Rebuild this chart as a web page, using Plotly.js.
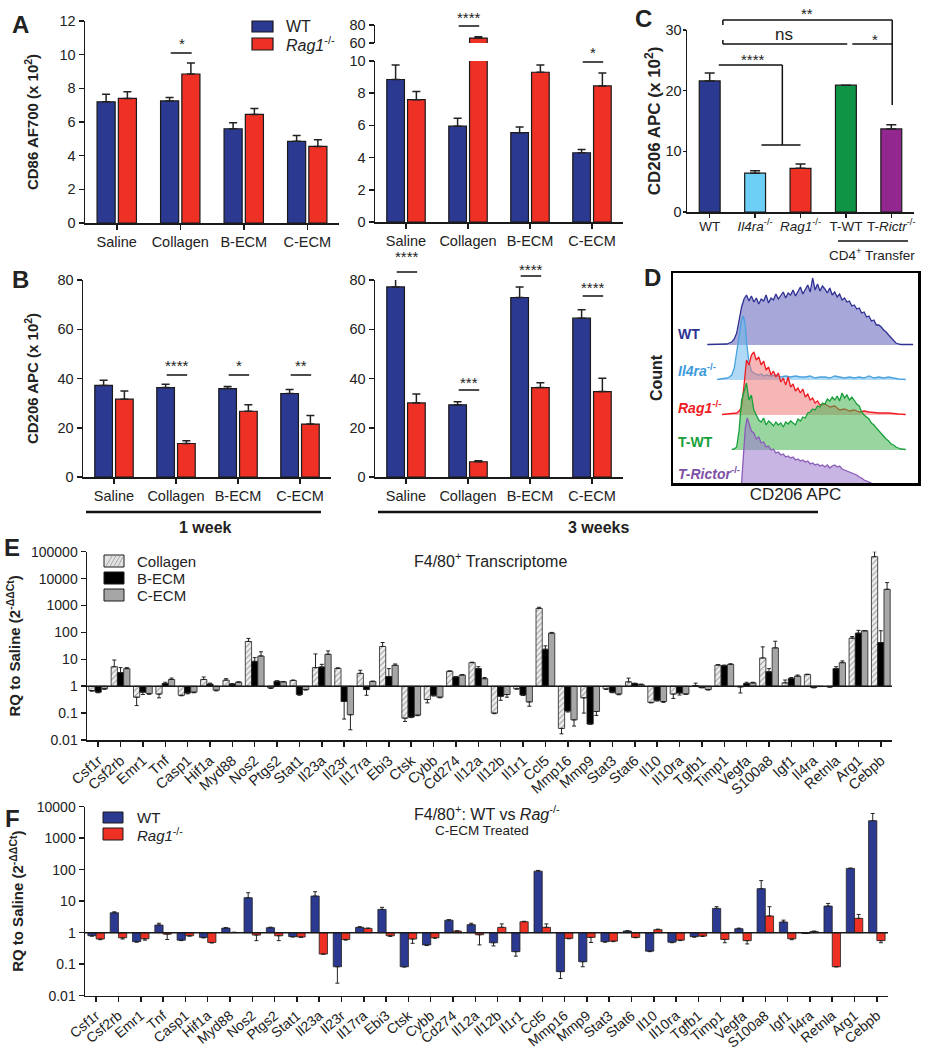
<!DOCTYPE html>
<html><head><meta charset="utf-8">
<script src="https://cdn.plot.ly/plotly-3.0.1.min.js"></script>
<style>html,body{margin:0;padding:0;background:#fff}</style>
</head><body><div id="chart" style="width:927px;height:1050px"></div>
<script>
// ---------------- DATA ----------------
const treatments = ['Saline','Collagen','B-ECM','C-ECM'];
// A: CD86 AF700 (x10^2), 1 week
const a1WT = [7.2, 7.25, 5.6, 4.85];
const a1WTtip = [7.65, 7.45, 5.95, 5.2];
const a1Rag = [7.4, 8.85, 6.45, 4.55];
const a1RagTip = [7.8, 9.5, 6.8, 4.95];
// A: 3 weeks
const a3WT = [8.85, 5.95, 5.55, 4.3];
const a3WTtip = [9.75, 6.45, 5.9, 4.5];
const a3Rag = [7.6, 65.5, 9.3, 8.45];
const a3RagTip = [8.1, 67, 9.75, 9.25];
// B: CD206 APC (x10^2)
const b1WT = [37.2, 36.3, 35.9, 33.9];
const b1WTtip = [39.3, 37.7, 36.8, 35.5];
const b1Rag = [31.6, 13.6, 26.7, 21.5];
const b1RagTip = [34.9, 14.7, 29.3, 25.0];
const b3WT = [77.2, 29.3, 72.9, 64.5];
const b3WTtip = [80.9, 30.6, 77.2, 67.9];
const b3Rag = [30.1, 6.2, 36.3, 34.7];
const b3RagTip = [33.7, 6.6, 38.3, 40.1];
// C
const cGroups = ['WT','<i>Il4ra</i><sup>-/-</sup>','<i>Rag1</i><sup>-/-</sup>','T-WT','T-<i>Rictr</i><sup>-/-</sup>'];
const cValues = [21.6, 6.4, 7.2, 20.9, 13.7];
const cTips = [22.9, 6.8, 7.9, 20.9, 14.4];
const cColors = ['#2b3990','#6dcff6','#ee3124','#0f9446','#92278f'];
// D: histograms [CD206 APC (arb), count (arb)]
const histWT = [[14,0.5],[17,0.5],[20,1],[22,1],[23,2],[24,3],[25,6],[26,12],[27,25],[28,38],[29,46],[30,50],[31,44],[32,49],[33,43],[34,47],[35,41],[36,46],[37,44],[38,50],[39,42],[40,47],[41,45],[42,51],[43,46],[44,49],[45,53],[46,47],[47,52],[48,50],[49,55],[50,49],[51,54],[52,58],[53,51],[54,56],[55,60],[56,53],[57,67],[58,55],[59,61],[60,54],[61,59],[62,56],[63,52],[64,57],[65,50],[66,53],[67,48],[68,51],[69,45],[70,47],[71,43],[72,44],[73,39],[74,40],[75,36],[76,37],[77,32],[78,33],[79,28],[80,29],[81,24],[82,25],[83,20],[84,20],[85,18],[86,15],[87,13],[88,10],[89,7],[90,4],[91,2],[92,1],[93,0.5],[95,0.5],[98,0.5]];
const histIl4ra = [[18,0.5],[20,1],[22,2],[23,3],[24,5],[25,12],[26,28],[27,48],[28,60],[28.7,64],[29.5,55],[30,38],[31,18],[32,9],[33,7],[34,6],[35,5],[36,6],[37,4],[38,5],[40,4],[42,5],[44,3],[46,4],[48,3],[50,4],[52,3],[54,3],[56,4],[58,2],[60,3],[62,3],[64,2],[66,4],[68,3],[70,2],[72,3],[74,2],[76,3],[78,2],[80,4],[82,2],[84,3],[86,2],[88,3],[90,2],[92,1],[95,0.5]];
const histRag = [[20,0.5],[22,1],[24,1],[26,2],[27,4],[28,8],[29,30],[30,55],[31,50],[32,60],[33,63],[34,55],[35,58],[36,50],[37,54],[38,45],[39,48],[40,40],[41,44],[42,38],[43,42],[44,33],[45,37],[46,30],[47,38],[48,28],[49,31],[50,24],[51,27],[52,22],[53,26],[54,18],[55,21],[56,15],[57,17],[58,12],[59,14],[60,10],[62,11],[64,8],[66,9],[68,5],[70,6],[72,4],[74,5],[76,3],[78,4],[80,3],[84,2],[88,2],[92,1],[95,0.5]];
const histTWT = [[24,0.5],[25,1],[26,3],[27,20],[28,50],[29,60],[30,67],[31,50],[32,55],[33,40],[34,35],[35,30],[36,28],[37,32],[38,25],[39,29],[40,27],[41,24],[42,28],[43,25],[44,27],[45,23],[46,28],[47,26],[48,29],[49,27],[50,25],[51,31],[52,29],[53,33],[54,32],[55,37],[56,38],[57,41],[58,40],[59,44],[60,43],[61,47],[62,46],[63,51],[64,49],[65,53],[66,50],[67,54],[68,49],[69,57],[70,52],[71,55],[72,50],[73,53],[74,49],[75,46],[76,44],[77,38],[78,35],[79,33],[80,31],[81,27],[82,25],[83,22],[84,19],[85,17],[86,14],[87,11],[88,9],[89,6],[90,5],[91,3],[92,2],[93,1],[95,0.5]];
const histTRictor = [[28,0],[28.8,35],[29.5,55],[30.3,65],[31,60],[32,52],[33,50],[34,44],[35,46],[36,40],[37,41],[38,36],[39,37],[40,33],[41,34],[42,30],[43,31],[44,28],[45,29],[46,26],[47,27],[48,25],[49,26],[50,23],[51,24],[52,22],[53,23],[54,21],[55,22],[56,19],[57,20],[58,18],[59,19],[60,17],[61,18],[62,16],[63,18],[64,15],[65,17],[66,18],[67,16],[68,17],[69,14],[70,13],[71,12],[72,11],[73,10],[74,9],[75,8],[76,6],[77,5],[78,3],[79,2],[80,1],[81,0]];
// E/F genes
const genes = ['Csf1r','Csf2rb','Emr1','Tnf','Casp1','Hif1a','Myd88','Nos2','Ptgs2','Stat1','Il23a','Il23r','Il17ra','Ebi3','Ctsk','Cybb','Cd274','Il12a','Il12b','Il1r1','Ccl5','Mmp16','Mmp9','Stat3','Stat6','Il10','Il10ra','Tgfb1','Timp1','Vegfa','S100a8','Igf1','Il4ra','Retnla','Arg1','Cebpb'];
const eColl = [0.69,5.3,0.39,0.51,0.46,1.78,1.68,46,0.87,1.63,4.9,4.6,3.0,30,0.065,0.32,3.6,7.5,0.1,0.8,780,0.027,0.37,0.79,1.45,0.25,0.51,1.05,6.1,0.94,11.2,1.33,2.7,0.94,61,65000];
const eCollTip = [0.65,9.4,0.19,0.37,0.44,2.2,1.9,60,0.82,1.7,15.8,4.8,3.9,42,0.049,0.24,3.7,7.8,0.095,0.78,860,0.017,0.1,0.76,2.0,0.24,0.35,1.3,6.3,0.56,29,1.7,2.8,0.93,70,100000];
const eBECM = [0.6,3.2,0.6,1.26,0.56,1.2,1.2,8.4,1.54,0.49,5.2,0.27,0.75,2.3,0.071,0.46,2.2,4.5,0.42,0.47,23.7,0.12,0.039,0.6,1.26,0.3,0.56,0.89,5.8,1.26,3.45,1.94,0.89,4.5,94,42];
const eBECMTip = [0.57,4.9,0.49,1.4,0.52,1.3,1.25,11.5,1.58,0.46,6.5,0.06,0.46,4.5,0.068,0.43,2.3,5.3,0.3,0.45,31.6,0.11,0.039,0.57,1.3,0.28,0.47,0.87,6.1,1.4,4.5,2.1,0.87,5.3,119,115];
const eCECM = [0.8,4.5,0.53,1.78,0.6,0.71,1.41,13.3,1.45,0.75,15.4,0.087,1.5,6.0,0.084,0.39,2.6,1.9,0.49,0.26,94,0.056,0.115,0.51,1.15,0.27,0.51,0.75,6.5,1.33,26.6,2.37,0.98,7.5,115,4000];
const eCECMTip = [0.77,4.9,0.5,2.0,0.57,0.67,1.45,19,1.5,0.72,20.5,0.024,1.55,6.7,0.08,0.37,2.7,2.1,0.39,0.18,100,0.033,0.082,0.48,1.2,0.25,0.5,0.72,6.8,1.4,47,2.6,0.97,8.7,116,7100];
const fWT = [0.8,4.3,0.52,1.75,0.58,0.71,1.4,12.9,1.44,0.75,14.6,0.083,1.48,5.5,0.083,0.41,2.5,1.8,0.48,0.25,90,0.058,0.12,0.52,1.13,0.26,0.5,0.75,5.9,1.34,25,2.18,0.95,7.0,110,3600];
const fWTTip = [0.78,4.6,0.5,2.0,0.56,0.68,1.45,18.6,1.5,0.73,20,0.025,1.55,6.4,0.082,0.39,2.6,2.0,0.38,0.18,95,0.035,0.083,0.5,1.15,0.25,0.48,0.72,6.7,1.4,45,2.5,0.94,8.5,112,6100];
const fRag = [0.63,0.69,0.64,0.9,0.8,0.49,1.02,0.84,0.8,0.73,0.21,0.61,1.37,0.8,0.63,0.69,1.13,0.86,1.48,2.23,1.48,0.66,0.71,0.54,0.71,1.25,0.58,0.78,0.61,0.56,3.4,0.64,1.1,0.083,2.85,0.56];
const fRagTip = [0.6,0.63,0.58,0.61,0.78,0.47,1.03,0.56,0.56,0.71,0.21,0.58,1.4,0.76,0.46,0.67,1.15,0.41,1.9,2.3,1.9,0.64,0.49,0.52,0.69,1.3,0.56,0.76,0.48,0.44,6.7,0.6,1.12,0.083,3.8,0.48];

// ---------------- HELPERS ----------------
const W = 927, H = 1050;
const fx = p => p / W;
const fy = p => 1 - p / H;
const dX = (a, b) => [fx(a), fx(b)];
const dY = (top, bot) => [fy(bot), fy(top)];
const BLUE = '#2b3990', RED = '#ee3124', INK = '#1a1a1a';
const FONT = 'Liberation Sans, Arial, sans-serif';

const axBase = {showline:true, linecolor:INK, linewidth:1.5, ticks:'outside', ticklen:5, tickwidth:1.5,
  tickcolor:INK, showgrid:false, zeroline:false, tickfont:{size:14.5, color:'#222'}, fixedrange:true, tickangle:0};

function errUp(vals, tips){ return vals.map((v,i)=>Math.max(tips[i]-v,0)); }
function errDown(vals, tips){ return vals.map((v,i)=>Math.max(v-tips[i],0)); }

function pairBar(xa, ya, vals, tips, color, offset, name){
  return {type:'bar', name, xaxis:xa, yaxis:ya, x: vals.map((_,i)=>i), y: vals,
    offset, width:0.285, marker:{color, line:{color:INK, width:1.2}},
    error_y:{type:'data', symmetric:false, array:errUp(vals,tips), arrayminus:vals.map(()=>0), color:'#222', thickness:1.5, width:4},
    showlegend:false, hoverinfo:'skip'};
}
function logBar(xa, ya, vals, tips, offset, width, marker, name){
  return {type:'bar', name, xaxis:xa, yaxis:ya, x: vals.map((_,i)=>i), y: vals.map(v=>v-1), base:1,
    offset, width, marker,
    error_y:{type:'data', symmetric:false, array:errUp(vals,tips), arrayminus:errDown(vals,tips), color:'#222', thickness:1, width:2},
    showlegend:false, hoverinfo:'skip'};
}

const traces = [];
// A
traces.push(pairBar('x','y', a1WT, a1WTtip, BLUE, -0.31, 'WT'));
traces.push(pairBar('x','y', a1Rag, a1RagTip, RED, 0.025, 'Rag1-/-'));
traces.push(pairBar('x2','y2', a3WT, a3WTtip, BLUE, -0.31, 'WT'));
traces.push(pairBar('x2','y2', a3Rag, a3RagTip, RED, 0.025, 'Rag1-/-'));
traces.push(pairBar('x2','y3', a3Rag, a3RagTip, RED, 0.025, 'Rag1-/-'));
// B
traces.push(pairBar('x3','y4', b1WT, b1WTtip, BLUE, -0.31, 'WT'));
traces.push(pairBar('x3','y4', b1Rag, b1RagTip, RED, 0.025, 'Rag1-/-'));
traces.push(pairBar('x4','y5', b3WT, b3WTtip, BLUE, -0.31, 'WT'));
traces.push(pairBar('x4','y5', b3Rag, b3RagTip, RED, 0.025, 'Rag1-/-'));
// C
traces.push({type:'bar', xaxis:'x5', yaxis:'y6', x:cValues.map((_,i)=>i), y:cValues, offset:-0.23, width:0.46,
  marker:{color:cColors, line:{color:INK, width:1.2}},
  error_y:{type:'data', symmetric:false, array:errUp(cValues,cTips), arrayminus:cValues.map(()=>0), color:'#222', thickness:1.5, width:5},
  showlegend:false, hoverinfo:'skip'});
// D histograms
const hists = [
  {data:histWT, base:138, line:'#2e3192', fill:'rgba(95,95,185,0.55)'},
  {data:histIl4ra, base:103, line:'#4aa3df', fill:'rgba(110,185,235,0.55)'},
  {data:histRag, base:68, line:'#ee1c24', fill:'rgba(240,110,110,0.5)'},
  {data:histTWT, base:33, line:'#17a03a', fill:'rgba(70,180,80,0.55)'},
  {data:histTRictor, base:0, line:'#8a5cb8', fill:'rgba(155,120,205,0.55)'}
];
hists.forEach(h=>{
  const xs = h.data.map(p=>p[0]);
  traces.push({type:'scatter', mode:'lines', xaxis:'x6', yaxis:'y7', x:[xs[0], xs[xs.length-1]], y:[h.base,h.base],
    line:{width:0, color:h.line}, showlegend:false, hoverinfo:'skip'});
  traces.push({type:'scatter', mode:'lines', xaxis:'x6', yaxis:'y7', x:xs, y:h.data.map(p=>h.base+p[1]),
    fill:'tonexty', fillcolor:h.fill, line:{width:1.3, color:h.line}, showlegend:false, hoverinfo:'skip'});
});
// E
const collMarker = {color:'#e8e8e8', pattern:{shape:'/', fgcolor:'#9a9a9a', bgcolor:'#eeeeee', size:4, solidity:0.25}, line:{color:'#222', width:0.8}};
traces.push(logBar('x7','y8', eColl, eCollTip, -0.42, 0.28, collMarker, 'Collagen'));
traces.push(logBar('x7','y8', eBECM, eBECMTip, -0.14, 0.28, {color:'#000', line:{color:'#222', width:0.8}}, 'B-ECM'));
traces.push(logBar('x7','y8', eCECM, eCECMTip, 0.14, 0.28, {color:'#a6a6a6', line:{color:'#222', width:0.8}}, 'C-ECM'));
// F
traces.push(logBar('x8','y9', fWT, fWTTip, -0.37, 0.37, {color:BLUE, line:{color:'#222', width:0.8}}, 'WT'));
traces.push(logBar('x8','y9', fRag, fRagTip, 0.0, 0.37, {color:RED, line:{color:'#222', width:0.8}}, 'Rag1-/-'));

// ---------------- LAYOUT ----------------
const idx4 = treatments.map((_,i)=>i);
const logTicks = [0.01,0.1,1,10,100,1000,10000,100000];
const yTitle = (t, size, standoff) => ({text:'<b>'+t+'</b>', font:{size, color:'#222'}, standoff});

const layout = {
  width:W, height:H, margin:{l:0,r:0,t:0,b:0}, paper_bgcolor:'#fff', plot_bgcolor:'rgba(0,0,0,0)',
  font:{family:FONT, size:15, color:'#222'}, barmode:'overlay', showlegend:false,
  xaxis:{...axBase, domain:dX(85,339), anchor:'y', range:[-0.5,3.5], tickvals:idx4, ticktext:treatments},
  yaxis:{...axBase, domain:dY(21,223), anchor:'x', range:[0,12], dtick:2, title:yTitle('CD86 AF700 (x 10<sup>2</sup>)',15,17)},
  xaxis2:{...axBase, domain:dX(375,623), anchor:'y2', range:[-0.5,3.5], tickvals:idx4, ticktext:treatments},
  yaxis2:{...axBase, domain:dY(61,222), anchor:'x2', range:[0,10], dtick:2},
  yaxis3:{...axBase, domain:dY(25,43), anchor:'x2', range:[60,80], tickvals:[60,80]},
  xaxis3:{...axBase, domain:dX(83,331), anchor:'y4', range:[-0.5,3.5], tickvals:idx4, ticktext:treatments},
  yaxis4:{...axBase, domain:dY(280,477), anchor:'x3', range:[0,80], dtick:20, title:yTitle('CD206 APC (x 10<sup>2</sup>)',15,15)},
  xaxis4:{...axBase, domain:dX(375,623), anchor:'y5', range:[-0.5,3.5], tickvals:idx4, ticktext:treatments},
  yaxis5:{...axBase, domain:dY(280,477), anchor:'x4', range:[0,80], dtick:20},
  xaxis5:{...axBase, domain:dX(687,914), anchor:'y6', range:[-0.5,4.5], tickvals:cGroups.map((_,i)=>i), ticktext:cGroups, ticklen:4, ticklabelstandoff:-3, tickfont:{size:13.5,color:'#222'}},
  yaxis6:{...axBase, domain:dY(30,212), anchor:'x5', range:[0,30], dtick:10, ticklen:3, ticklabelstandoff:-2, title:yTitle('CD206 APC (x 10<sup>2</sup>)',17,0)},
  xaxis6:{showline:true, mirror:true, linecolor:'#000', linewidth:2.5, ticks:'', showticklabels:false, showgrid:false, zeroline:false,
    domain:dX(673,918), anchor:'y7', range:[0,100], title:{text:'CD206 APC', font:{size:17,color:'#222'}, standoff:4}},
  yaxis7:{showline:true, mirror:true, linecolor:'#000', linewidth:2.5, ticks:'', showticklabels:false, showgrid:false, zeroline:false,
    domain:dY(273,483), anchor:'x6', range:[0,210], title:{text:'<b>Count</b>', font:{size:16,color:'#222'}, standoff:4}},
  xaxis7:{...axBase, domain:dX(87,892), anchor:'y8', range:[-0.5,35.5], tickvals:genes.map((_,i)=>i), ticktext:genes, tickangle:-42, tickfont:{size:14.5,color:'#222'}},
  yaxis8:{...axBase, domain:dY(551.7,740), anchor:'x7', type:'log', range:[-2,5], tickvals:logTicks, ticktext:logTicks.map(String), tickfont:{size:14,color:'#222'},
    title:yTitle('RQ to Saline (2<sup>-ΔΔCt</sup>)',15,6)},
  xaxis8:{...axBase, domain:dX(85,888), anchor:'y9', range:[-0.5,35.5], tickvals:genes.map((_,i)=>i), ticktext:genes, tickangle:-40, tickfont:{size:14,color:'#222'}},
  yaxis9:{...axBase, domain:dY(806.7,995.7), anchor:'x8', type:'log', range:[-2,4], tickvals:logTicks.slice(0,7), ticktext:logTicks.slice(0,7).map(String), tickfont:{size:14,color:'#222'},
    title:yTitle('RQ to Saline (2<sup>-ΔΔCt</sup>)',15,9)},
  shapes:[], annotations:[]
};
const S = layout.shapes, A = layout.annotations;
const pline = (x0,y0,x1,y1,w) => S.push({type:'line', xref:'paper', yref:'paper', x0:fx(x0), x1:fx(x1), y0:fy(y0), y1:fy(y1), line:{color:'#111', width:w||1.5}});
const ptext = (x,y,text,size,opts) => A.push(Object.assign({xref:'paper', yref:'paper', x:fx(x), y:fy(y), text, showarrow:false, font:{size:size||15, color:'#222'}, xanchor:'center', yanchor:'middle'}, opts||{}));

// panel letters
[['A',20,24],['B',20,279],['C',643,19],['D',652,277],['E',12,547],['F',12,818]].forEach(l=>
  ptext(l[1], l[2], '<b>'+l[0]+'</b>', 24, {font:{size:24, family:'Liberation Sans Narrow, Arial Narrow, sans-serif', color:'#222'}}));

// significance marks (x in data coords, y in page position)
function sig(xref, i, label, lineY, textY){
  S.push({type:'line', xref, yref:'paper', x0:i-0.15, x1:i+0.18, y0:fy(lineY), y1:fy(lineY), line:{color:'#111', width:1.5}});
  A.push({xref, yref:'paper', x:i+0.02, y:fy(textY+4), text:label, showarrow:false, font:{size:15, color:'#222'}, yanchor:'middle'});
}
sig('x',1,'*',53,40);
sig('x2',1,'****',26,13);
sig('x2',3,'*',62,49);
sig('x3',1,'****',375,362); sig('x3',2,'*',375,362); sig('x3',3,'**',375,362);
sig('x4',0,'****',272,252); sig('x4',1,'***',390,378); sig('x4',2,'****',276,265); sig('x4',3,'****',296,283);

// C brackets
function cl(x0,y0,x1,y1){ S.push({type:'line', xref:'x5', yref:'paper', x0, x1, y0:fy(y0), y1:fy(y1), line:{color:'#111', width:1.5}}); }
cl(0.29,20,4.02,20); cl(0.29,20,0.29,25); cl(4.02,20,4.02,105);
cl(0.29,44,3.03,44); cl(0.29,40,0.29,44); cl(3.14,44,4.02,44);
cl(0.2,65,1.6,65); cl(1.6,65,1.6,145); cl(1.14,145,2.0,145);
function ct(x,y,t,s){ A.push({xref:'x5', yref:'paper', x, y:fy(y), text:t, showarrow:false, font:{size:s||15, color:'#222'}, yanchor:'middle'}); }
ct(2.15,14,'**'); ct(1.63,35,'ns',17); ct(3.65,39,'*'); ct(0.95,59,'****');
pline(838,241,908,241,1.5);
ptext(872,254,'CD4<sup>+</sup> Transfer',13.5);

// A legend
S.push({type:'rect', xref:'paper', yref:'paper', x0:fx(252), x1:fx(273), y0:fy(32), y1:fy(21), fillcolor:BLUE, line:{color:INK,width:1.2}});
S.push({type:'rect', xref:'paper', yref:'paper', x0:fx(252), x1:fx(273), y0:fy(50), y1:fy(38), fillcolor:RED, line:{color:INK,width:1.2}});
ptext(284,27,'WT',16,{xanchor:'left'});
ptext(284,44,'<i>Rag1</i><sup>-/-</sup>',16,{xanchor:'left'});

// B time lines
pline(86,512,321,512,2.5); pline(378,512,818,512,2.5);
ptext(205,527,'<b>1 week</b>',16); ptext(598,527,'<b>3 weeks</b>',16);

// D labels
const dLab = [['<b>WT</b>',334,'#2e3192'],['<b><i>Il4ra</i><sup>-/-</sup></b>',370,'#3b9ad9'],['<b><i>Rag1</i><sup>-/-</sup></b>',407,'#ee1c24'],
  ['<b>T-WT</b>',442,'#17a03a'],['<b><i>T-Rictor</i><sup>-/-</sup></b>',473,'#7d51a6']];
dLab.forEach(d=>ptext(676,d[1],d[0],14,{xanchor:'left', font:{size:14,color:d[2]}}));

// E title + legend + baseline
ptext(490,560,'F4/80<sup>+</sup> Transcriptome',16);
[['Collagen',561,'#e2e2e2'],['B-ECM',578,'#000'],['C-ECM',595,'#a6a6a6']].forEach(l=>{
  S.push({type:'rect', xref:'paper', yref:'paper', x0:fx(104), x1:fx(124), y0:fy(l[1]+6), y1:fy(l[1]-6), fillcolor:l[2], line:{color:INK,width:1}});
  ptext(135,l[1],l[0],15,{xanchor:'left'});
});
[[106,566,112,556],[110,566,116,556],[114,566,120,556],[118,566,123,557]].forEach(h=>
  S.push({type:'line', xref:'paper', yref:'paper', x0:fx(h[0]), y0:fy(h[1]), x1:fx(h[2]), y1:fy(h[3]), line:{color:'#999', width:0.8}}));
S.push({type:'line', xref:'x7 domain', yref:'y8', x0:0, x1:1, y0:1, y1:1, line:{color:INK, width:1.5}});

// F title + legend + baseline
ptext(487,813,'F4/80<sup>+</sup>: WT vs <i>Rag</i><sup>-/-</sup>',16);
ptext(482,830,'C-ECM Treated',13.5);
S.push({type:'rect', xref:'paper', yref:'paper', x0:fx(103), x1:fx(123), y0:fy(823), y1:fy(812), fillcolor:BLUE, line:{color:INK,width:1}});
S.push({type:'rect', xref:'paper', yref:'paper', x0:fx(103), x1:fx(123), y0:fy(840), y1:fy(828), fillcolor:RED, line:{color:INK,width:1}});
ptext(135,817,'WT',15,{xanchor:'left'});
ptext(135,834,'<i>Rag1</i><sup>-/-</sup>',15,{xanchor:'left'});
S.push({type:'line', xref:'x8 domain', yref:'y9', x0:0, x1:1, y0:1, y1:1, line:{color:INK, width:1.5}});

Plotly.newPlot('chart', traces, layout, {staticPlot:true, displayModeBar:false});
</script></body></html>
